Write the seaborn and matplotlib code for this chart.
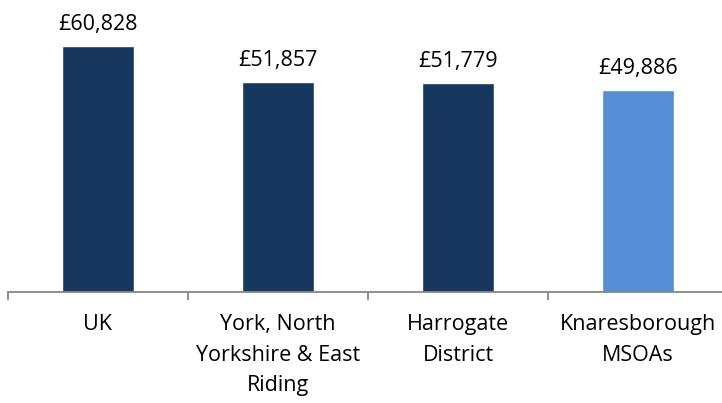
import matplotlib
matplotlib.use("Agg")
import matplotlib.pyplot as plt
import seaborn as sns
import pandas as pd

# ========== Data ========== #
areas = ["UK", "York, North\nYorkshire & East\nRiding", "Harrogate\nDistrict", "Knaresborough\nMSOAs"]
values = [60828, 51857, 51779, 49886]
bar_colors = ["#17375E", "#17375E", "#17375E", "#558ED5"]

df = pd.DataFrame({"area": areas, "value": values})

sns.set_style("white")
plt.rcParams["font.family"] = ["Open Sans", "DejaVu Sans"]
plt.rcParams["text.color"] = "black"
plt.rcParams["xtick.color"] = "black"

fig = plt.figure(figsize=(7.22, 4.03), dpi=100)
# axes runs a little past the right edge, like the original
ax = fig.add_axes([8 / 722, 111 / 403, 720 / 722, 283 / 403])

sns.barplot(data=df, x="area", y="value", hue="area", palette=bar_colors,
            width=0.4, legend=False, ax=ax, saturation=1)

ax.set_ylim(0, 70000)
ax.set_xlim(-0.5, 3.5)
ax.set_xlabel("")
ax.set_ylabel("")
ax.set_yticks([])

# value labels
for i, v in enumerate(values):
    ax.annotate(f"£{v:,}", (i, v), xytext=(0, 8), textcoords="offset points",
                ha="center", va="bottom", fontsize=15.5, color="black")

# ========== Axis styling ========== #
for side in ["top", "right", "left"]:
    ax.spines[side].set_visible(False)
ax.spines["bottom"].set_color("#868686")
ax.spines["bottom"].set_linewidth(1.3)

ax.set_xticks([-0.5, 0.5, 1.5, 2.5, 3.5])
ax.set_xticklabels([])
ax.tick_params(axis="x", which="major", bottom=True, length=6, color="#868686",
               width=1.3, direction="out")
ax.set_xticks([0, 1, 2, 3], minor=True)
ax.set_xticklabels(areas, minor=True, fontsize=15.5, linespacing=1.58, color="black")
ax.tick_params(axis="x", which="minor", bottom=True, length=0, pad=16)

fig.savefig("out.png", dpi=100)
